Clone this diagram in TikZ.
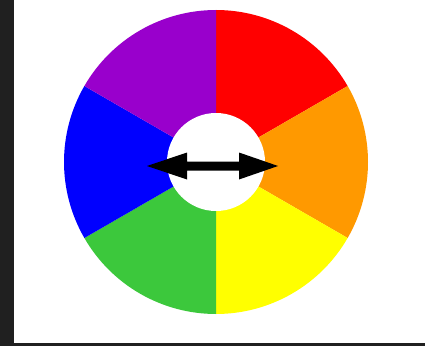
\documentclass[tikz,border=0pt]{standalone}
\usepackage{xcolor}
\usetikzlibrary{calc}
\definecolor{frame}{HTML}{202020}
\definecolor{cred}{HTML}{FF0000}
\definecolor{corange}{HTML}{FF9900}
\definecolor{cyellow}{HTML}{FFFF00}
\definecolor{cgreen}{HTML}{3CC83C}
\definecolor{cblue}{HTML}{0000FF}
\definecolor{cpurple}{HTML}{9900CC}
\begin{document}
\begin{tikzpicture}[x=1pt,y=1pt]
\useasboundingbox (0,0) rectangle (425,346);
\fill[white] (0,0) rectangle (425,346);
\fill[frame] (0,0) rectangle (14,346);
\fill[frame] (0,0) rectangle (425,3);
\coordinate (c) at (216,184);
\def\R{152}
\foreach \a/\b/\col in {30/90/cred, -30/30/corange, -90/-30/cyellow, 210/270/cgreen, 150/210/cblue, 90/150/cpurple}{
  \fill[\col] (c) -- ++(\a:\R) arc[start angle=\a, end angle=\b, radius=\R] -- cycle;
}
\fill[white] (c) circle[radius=49];
\coordinate (l) at (147,180);
\coordinate (r) at (278,180);
\fill[black] (l) -- ++(40,13.5) -- ++(0,-9) -- ($(r)+(-39,4.5)$) -- ++(0,9) -- (r) -- ++(-39,-13.5) -- ++(0,9) -- ($(l)+(40,-4.5)$) -- ++(0,-9) -- cycle;
\end{tikzpicture}
\end{document}
